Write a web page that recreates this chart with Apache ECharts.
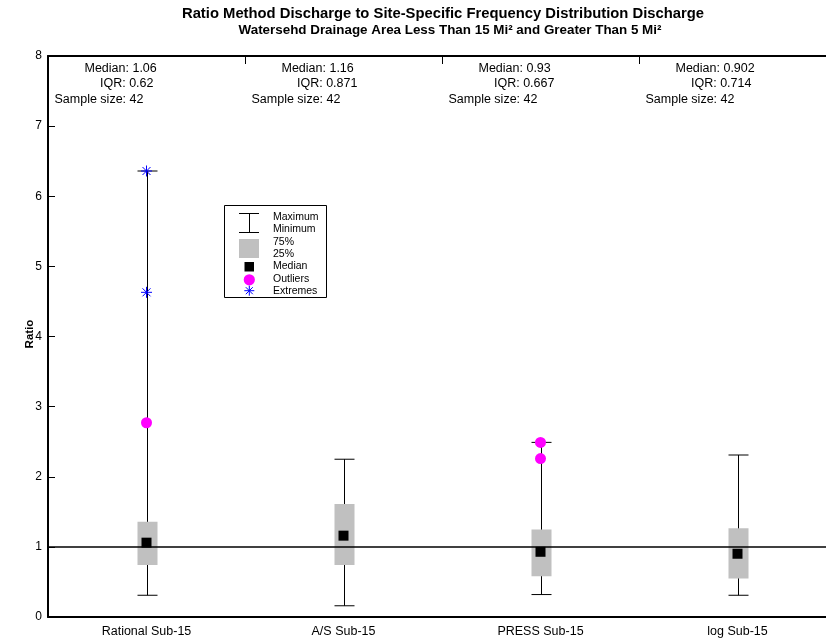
<!DOCTYPE html>
<html>
<head>
<meta charset="utf-8">
<script src="https://cdn.jsdelivr.net/npm/echarts@6/dist/echarts.min.js"></script>
<style>
html,body{margin:0;padding:0;background:#fff;overflow:hidden;width:826px;height:641px;}
#chart{width:836px;height:641px;}
</style>
</head>
<body>
<div id="chart"></div>
<script>
// ---- data ----
var categories = ['Rational Sub-15', 'A/S Sub-15', 'PRESS Sub-15', 'log Sub-15'];
var minimums = [0.31, 0.16, 0.32, 0.31];
var q1s = [0.74, 0.74, 0.58, 0.55];
var medians = [1.06, 1.16, 0.93, 0.902];
var q3s = [1.36, 1.61, 1.247, 1.264];
var maximums = [6.36, 2.25, 2.49, 2.31];
var outliers = [[0, 2.77], [2, 2.49], [2, 2.26]];
var extremes = [[0, 6.36], [0, 4.63]];
var medianLabels = ['Median: 1.06', 'Median: 1.16', 'Median: 0.93', 'Median: 0.902'];
var iqrLabels = ['IQR: 0.62', 'IQR: 0.871', 'IQR: 0.667', 'IQR: 0.714'];
var sampleLabels = ['Sample size: 42', 'Sample size: 42', 'Sample size: 42', 'Sample size: 42'];
var yTicks = [0, 1, 2, 3, 4, 5, 6, 7, 8];
var referenceValue = 1;

var FONT = 'Liberation Sans, Arial, sans-serif';
var chart = echarts.init(document.getElementById('chart'), null, {renderer: 'canvas'});

var boxData = categories.map(function (c, i) {
  return [i, minimums[i], q1s[i], medians[i], q3s[i], maximums[i]];
});

var option = {
  animation: false,
  backgroundColor: '#fff',
  grid: {left: 48, right: 0, top: 56, bottom: 24, containLabel: false, outerBoundsMode: 'none'},
  xAxis: [{
    type: 'category',
    data: categories,
    position: 'bottom',
    axisLine: {lineStyle: {color: '#000', width: 2}},
    axisTick: {show: false},
    axisLabel: {color: '#000', fontSize: 12.5, fontFamily: FONT, margin: 8, interval: 0},
    splitLine: {show: false}
  }, {
    type: 'category',
    data: categories,
    position: 'top',
    axisLine: {lineStyle: {color: '#000', width: 2}},
    axisTick: {show: true, inside: true, length: 8, lineStyle: {color: '#000', width: 1}},
    axisLabel: {show: false},
    splitLine: {show: false}
  }],
  yAxis: {
    type: 'value',
    min: yTicks[0],
    max: yTicks[yTicks.length - 1],
    interval: 1,
    axisLine: {show: true, lineStyle: {color: '#000', width: 2}},
    axisTick: {show: true, inside: true, length: 7, lineStyle: {color: '#000', width: 1}},
    axisLabel: {color: '#000', fontSize: 12, fontFamily: FONT, margin: 6},
    splitLine: {show: false}
  },
  graphic: [
    {type: 'text', x: 443, y: 14, style: {text: 'Ratio Method Discharge to Site-Specific Frequency Distribution Discharge', font: 'bold 14.8px ' + FONT, fill: '#000', textAlign: 'center', textVerticalAlign: 'middle'}},
    {type: 'text', x: 450, y: 30, style: {text: 'Watersehd Drainage Area Less Than 15 Mi\u00B2 and Greater Than 5 Mi\u00B2', font: 'bold 13.4px ' + FONT, fill: '#000', textAlign: 'center', textVerticalAlign: 'middle'}},
    {type: 'text', x: 30, y: 334, rotation: Math.PI / 2, style: {text: 'Ratio', font: 'bold 11.5px ' + FONT, fill: '#000', textAlign: 'center', textVerticalAlign: 'middle'}},
    // legend box
    {type: 'rect', shape: {x: 224.5, y: 205.5, width: 102, height: 92}, style: {fill: '#fff', stroke: '#000', lineWidth: 1}, z: 10},
    {type: 'line', shape: {x1: 239, y1: 213.5, x2: 259, y2: 213.5}, style: {stroke: '#000', lineWidth: 1}, z: 11},
    {type: 'line', shape: {x1: 239, y1: 232.5, x2: 259, y2: 232.5}, style: {stroke: '#000', lineWidth: 1}, z: 11},
    {type: 'line', shape: {x1: 249.5, y1: 213.5, x2: 249.5, y2: 232.5}, style: {stroke: '#000', lineWidth: 1}, z: 11},
    {type: 'rect', shape: {x: 239, y: 239, width: 20, height: 19}, style: {fill: '#c0c0c0'}, z: 11},
    {type: 'rect', shape: {x: 244.5, y: 262, width: 9.5, height: 9.5}, style: {fill: '#000'}, z: 11},
    {type: 'circle', shape: {cx: 249.3, cy: 279.8, r: 5.6}, style: {fill: '#ff00ff'}, z: 11},
    {type: 'line', shape: {x1: 244.3, y1: 290.7, x2: 254.3, y2: 290.7}, style: {stroke: '#0000ff', lineWidth: 1}, z: 11},
    {type: 'line', shape: {x1: 249.3, y1: 285.7, x2: 249.3, y2: 295.7}, style: {stroke: '#0000ff', lineWidth: 1}, z: 11},
    {type: 'line', shape: {x1: 245.8, y1: 287.2, x2: 252.8, y2: 294.2}, style: {stroke: '#0000ff', lineWidth: 1}, z: 11},
    {type: 'line', shape: {x1: 245.8, y1: 294.2, x2: 252.8, y2: 287.2}, style: {stroke: '#0000ff', lineWidth: 1}, z: 11},
    {type: 'text', x: 273, y: 216.7, style: {text: 'Maximum', font: '10.5px ' + FONT, fill: '#000', textVerticalAlign: 'middle'}, z: 11},
    {type: 'text', x: 273, y: 229.3, style: {text: 'Minimum', font: '10.5px ' + FONT, fill: '#000', textVerticalAlign: 'middle'}, z: 11},
    {type: 'text', x: 273, y: 242.3, style: {text: '75%', font: '10.5px ' + FONT, fill: '#000', textVerticalAlign: 'middle'}, z: 11},
    {type: 'text', x: 273, y: 253.8, style: {text: '25%', font: '10.5px ' + FONT, fill: '#000', textVerticalAlign: 'middle'}, z: 11},
    {type: 'text', x: 273, y: 266.2, style: {text: 'Median', font: '10.5px ' + FONT, fill: '#000', textVerticalAlign: 'middle'}, z: 11},
    {type: 'text', x: 273, y: 278.7, style: {text: 'Outliers', font: '10.5px ' + FONT, fill: '#000', textVerticalAlign: 'middle'}, z: 11},
    {type: 'text', x: 273, y: 290.7, style: {text: 'Extremes', font: '10.5px ' + FONT, fill: '#000', textVerticalAlign: 'middle'}, z: 11}
  ],
  series: [
    {
      type: 'custom',
      name: 'boxes',
      z: 1,
      data: boxData,
      encode: {x: 0, y: [1, 2, 3, 4, 5]},
      renderItem: function (params, api) {
        var c = api.value(0);
        var x = Math.round(api.coord([c, 0])[0]) + 0.5;
        var yMin = api.coord([c, api.value(1)])[1];
        var yQ1 = api.coord([c, api.value(2)])[1];
        var yQ3 = api.coord([c, api.value(4)])[1];
        var yMax = api.coord([c, api.value(5)])[1];
        var hw = 10;
        var ls = {stroke: '#000', lineWidth: 1};
        return {type: 'group', children: [
          {type: 'line', shape: {x1: x, y1: yMax, x2: x, y2: yMin}, style: ls},
          {type: 'line', shape: {x1: x - hw, y1: yMax, x2: x + hw, y2: yMax}, style: ls},
          {type: 'line', shape: {x1: x - hw, y1: yMin, x2: x + hw, y2: yMin}, style: ls},
          {type: 'rect', shape: {x: x - hw, y: yQ3, width: 2 * hw, height: yQ1 - yQ3}, style: {fill: '#c0c0c0'}}
        ]};
      }
    },
    {
      type: 'scatter',
      name: 'Median',
      z: 4,
      symbol: 'rect',
      symbolSize: 10,
      itemStyle: {color: '#000', opacity: 1},
      data: medians.map(function (m, i) { return [i, m]; }),
      markLine: {
        silent: true,
        symbol: 'none',
        label: {show: false},
        lineStyle: {color: '#000', width: 1.5, type: 'solid', opacity: 1},
        data: [{yAxis: referenceValue}]
      }
    },
    {
      type: 'scatter',
      name: 'Outliers',
      z: 5,
      symbol: 'circle',
      symbolSize: 11,
      itemStyle: {color: '#ff00ff', opacity: 1},
      data: outliers
    },
    {
      type: 'custom',
      name: 'Extremes',
      z: 5,
      data: extremes,
      renderItem: function (params, api) {
        var p = api.coord([api.value(0), api.value(1)]);
        var r = 5.5, d = 4;
        var st = {stroke: '#0000ff', lineWidth: 1};
        return {type: 'group', children: [
          {type: 'line', shape: {x1: p[0] - r, y1: p[1], x2: p[0] + r, y2: p[1]}, style: st},
          {type: 'line', shape: {x1: p[0], y1: p[1] - r, x2: p[0], y2: p[1] + r}, style: st},
          {type: 'line', shape: {x1: p[0] - d, y1: p[1] - d, x2: p[0] + d, y2: p[1] + d}, style: st},
          {type: 'line', shape: {x1: p[0] - d, y1: p[1] + d, x2: p[0] + d, y2: p[1] - d}, style: st}
        ]};
      }
    },
    {
      type: 'custom',
      name: 'Stats',
      z: 6,
      data: categories.map(function (c, i) { return [i, yTicks[yTicks.length - 1]]; }),
      renderItem: function (params, api) {
        var i = params.dataIndex;
        var p = api.coord([api.value(0), api.value(1)]);
        var f = '12.5px ' + FONT;
        return {type: 'group', children: [
          {type: 'text', x: p[0] - 62, y: p[1] + 12.5, style: {text: medianLabels[i], font: f, fill: '#000', textVerticalAlign: 'middle'}},
          {type: 'text', x: p[0] - 46.5, y: p[1] + 28, style: {text: iqrLabels[i], font: f, fill: '#000', textVerticalAlign: 'middle'}},
          {type: 'text', x: p[0] - 92, y: p[1] + 43.5, style: {text: sampleLabels[i], font: f, fill: '#000', textVerticalAlign: 'middle'}}
        ]};
      }
    }
  ]
};
chart.setOption(option);
</script>
</body>
</html>
